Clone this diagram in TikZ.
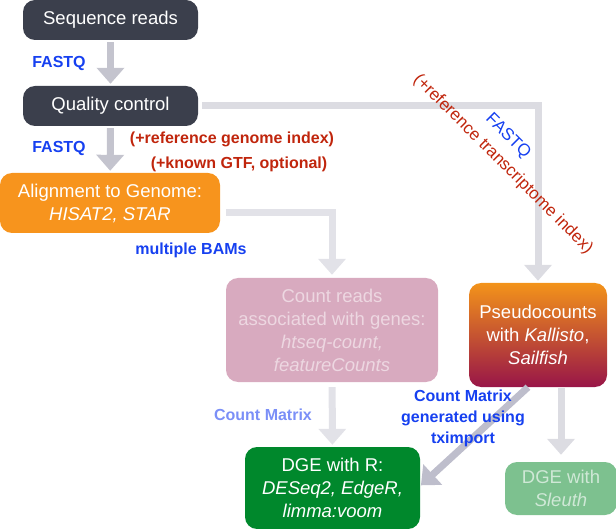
\documentclass[tikz,border=0pt]{standalone}
\usepackage{fontspec}
\setmainfont{Liberation Sans}
\usetikzlibrary{arrows.meta,positioning,calc}

\definecolor{darkbox}{HTML}{3B3F4C}
\definecolor{orangebox}{HTML}{F7941D}
\definecolor{pinkbox}{HTML}{D8AABF}
\definecolor{pinktext}{HTML}{EDD7E1}
\definecolor{greenbox}{HTML}{00882C}
\definecolor{sleuthbox}{HTML}{7DC18F}
\definecolor{sleuthtext}{HTML}{CFE8D6}
\definecolor{pseudotop}{HTML}{F3931A}
\definecolor{pseudobot}{HTML}{981548}
\definecolor{arrowgray}{HTML}{C4C4CE}
\definecolor{linegray}{HTML}{DCDCE2}
\definecolor{palegray}{HTML}{E2E2E8}
\definecolor{diaggray}{HTML}{BEBECC}
\definecolor{bluelabel}{HTML}{1640F0}
\definecolor{lightblue}{HTML}{7B8FF7}
\definecolor{redlabel}{HTML}{C0250C}

\begin{document}
\begin{tikzpicture}[x=1pt, y=-1pt,
	every node/.style={font=\fontsize{18.5}{23}\selectfont},
	box/.style={rectangle, rounded corners=12pt, align=center, text=white, inner sep=0pt},
	flow/.style={line width=7pt, -{Triangle[width=27pt,length=16pt]}},
	lab/.style={font=\bfseries\fontsize{16}{21}\selectfont, text=bluelabel, align=center}]
				\useasboundingbox (0,0) rectangle (616,529);
				
				% scatole
				\node[box, fill=darkbox, minimum width=175pt, minimum height=40pt] (seq) at (110.5,20) {Sequence reads};
				\node[box, fill=darkbox, minimum width=175pt, minimum height=40pt] (qc) at (110.5,106) {Quality control};
				\node[box, fill=orangebox, minimum width=220pt, minimum height=60pt] (align) at (110,203) {Alignment to Genome:\\\itshape HISAT2, STAR};
				\node[box, fill=pinkbox, text=pinktext, minimum width=212pt, minimum height=104pt] (count) at (332,330) {Count reads\\associated with genes:\\\itshape htseq-count,\\\itshape featureCounts};
				\node[box, top color=pseudotop, bottom color=pseudobot, minimum width=138pt, minimum height=104pt] (pseudo) at (538,335) {Pseudocounts\\with \textit{Kallisto},\\\itshape Sailfish};
				\node[box, fill=greenbox, minimum width=175pt, minimum height=82pt] (dge) at (332.5,488) {DGE with R:\\\itshape DESeq2, EdgeR,\\\itshape limma:voom};
				\node[box, fill=sleuthbox, text=sleuthtext, minimum width=112pt, minimum height=53pt] (sleuth) at (561,488.5) {DGE with\\\itshape Sleuth};
				
				% frecce
				\draw[flow, arrowgray, shorten <=2pt, shorten >=2pt] (seq) -- (qc);
				\draw[flow, arrowgray, shorten <=2pt, shorten >=2pt] (qc) -- (align);
				\draw[flow, linegray, shorten <=4pt, shorten >=2pt] (qc.east) -| (pseudo.north);
				\draw[flow, palegray, shorten <=6pt, shorten >=3pt] ([yshift=-10pt]align.east) -| (count.north);
				\draw[flow, palegray, shorten <=5pt, shorten >=2pt] (count) -- (dge);
				\draw[flow, diaggray, shorten >=1pt] ([xshift=-10pt]pseudo.south) -- ([yshift=2pt]dge.east);
				\draw[flow, linegray, shorten <=1pt, shorten >=7pt] (pseudo.south -| sleuth.north) -- (sleuth.north);
				
				% etichette
				\node[lab] (f1) at (59,63) {FASTQ};
				\node[lab] (f2) at (59,148) {FASTQ};
				\node[lab, text=redlabel] (refg) at (232,139) {(+reference genome index)};
				\node[lab, text=redlabel] (gtf) at (239,164) {(+known GTF, optional)};
				\node[lab] (bams) at (191,250) {multiple BAMs};
				\node[lab, text=lightblue] (cm) at (263,415) {Count Matrix};
				\node[lab] (cmtx) at (463,418) {Count Matrix\\generated using\\tximport};
				\node[text=bluelabel, rotate=-45, font=\fontsize{17}{20}\selectfont] (f3) at (508,136) {FASTQ};
				\node[text=redlabel, rotate=-45, font=\fontsize{17}{20}\selectfont] (reft) at (503,164) {(+reference transcriptome index)};
			\end{tikzpicture}
\end{document}
